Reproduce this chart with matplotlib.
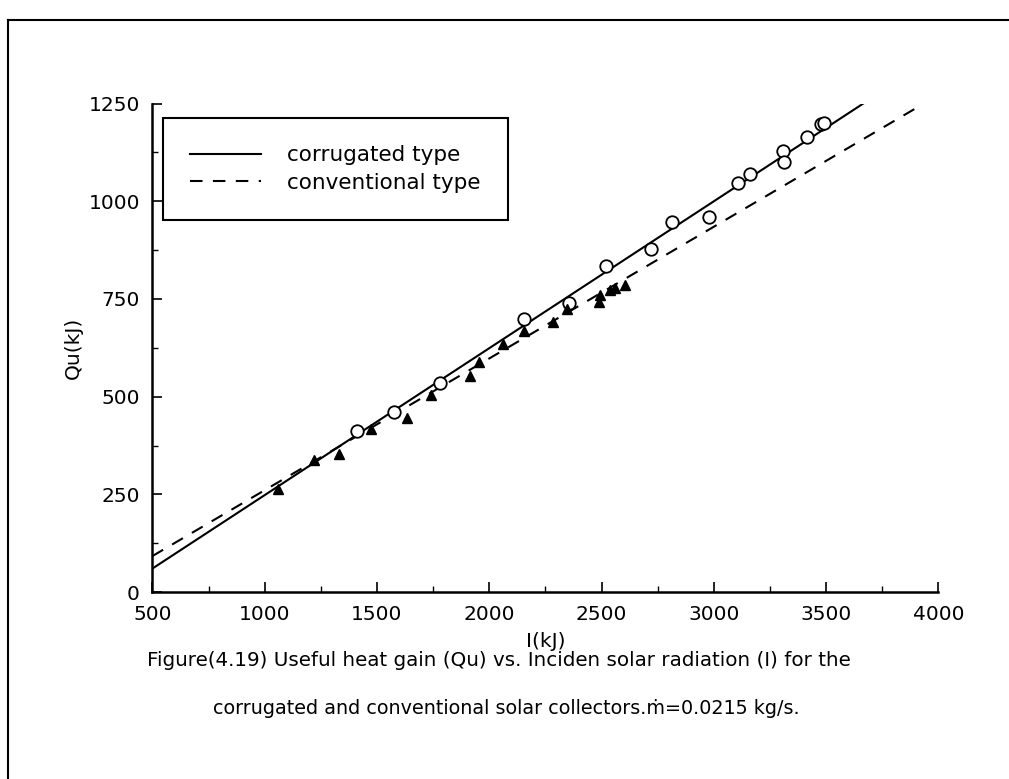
import numpy as np
import matplotlib
matplotlib.use('Agg')
import matplotlib.pyplot as plt
from matplotlib.lines import Line2D
from matplotlib.ticker import MultipleLocator

# measured points, corrugated collector (open circles)
corr_I = [1411, 1574, 1779, 2153, 2357, 2521, 2720, 2815, 2977, 3106, 3159, 3306, 3311, 3415, 3477, 3492]
corr_Q = [412, 460, 536, 700, 740, 834, 878, 946, 959, 1046, 1070, 1129, 1101, 1165, 1199, 1201]

# measured points, conventional collector (filled triangles)
conv_I = [1061, 1220, 1331, 1474, 1634, 1742, 1913, 1955, 2060, 2156, 2285, 2345, 2488, 2492, 2536, 2561, 2606]
conv_Q = [264, 338, 354, 416, 446, 504, 553, 589, 636, 668, 690, 724, 741, 760, 773, 778, 786]

# fitted lines (end points)
corr_fit_I = [500, 3665]
corr_fit_Q = [60, 1250]
conv_fit_I = [500, 3920]
conv_fit_Q = [92, 1245]

x_ticks = [500, 1000, 1500, 2000, 2500, 3000, 3500, 4000]
y_ticks = [0, 250, 500, 750, 1000, 1250]

caption1 = "Figure(4.19) Useful heat gain (Qu) vs. Inciden solar radiation (I) for the"
caption2 = "corrugated and conventional solar collectors.ṁ=0.0215 kg/s."

plt.rcParams['font.family'] = ['DejaVu Sans']

fig = plt.figure(figsize=(10.09, 7.79), dpi=100)
ax = fig.add_axes([0.151, 0.240, 0.779, 0.627])

ax.plot(corr_fit_I, corr_fit_Q, color='black', lw=1.5, label='corrugated type')
ax.plot(conv_fit_I, conv_fit_Q, color='black', lw=1.5, ls=(0, (6, 5)), label='conventional type')

ax.plot(corr_I, corr_Q, ls='none', marker='o', ms=9, mfc='white', mec='black', mew=1.3)
ax.plot(conv_I, conv_Q, ls='none', marker='^', ms=7.5, color='black')

ax.set_xlim(500, 4000)
ax.set_ylim(0, 1250)
ax.set_xticks(x_ticks)
ax.set_yticks(y_ticks)
ax.xaxis.set_minor_locator(MultipleLocator(250))
ax.yaxis.set_minor_locator(MultipleLocator(125))
ax.tick_params(which='major', direction='in', length=7, width=1.2, labelsize=14.5, pad=9)
ax.tick_params(which='minor', direction='in', length=4, width=1)

for s in ['top', 'right']:
    ax.spines[s].set_visible(False)
for s in ['left', 'bottom']:
    ax.spines[s].set_linewidth(1.8)

ax.set_xlabel('I(kJ)', fontsize=14.5, labelpad=6)
ax.set_ylabel('Qu(kJ)', fontsize=14.5, labelpad=4)

leg = ax.legend(loc='upper left', bbox_to_anchor=(0.014, 0.97), fontsize=15.5,
                handlelength=3.3, handletextpad=1.2, borderpad=1.25, labelspacing=0.35,
                fancybox=False, edgecolor='black', framealpha=1, borderaxespad=0)
leg.get_frame().set_linewidth(1.5)

fig.text(0.494, 1 - 661 / 779, caption1, ha='center', va='center', fontsize=14.3)
fig.text(0.502, 1 - 709 / 779, caption2, ha='center', va='center', fontsize=13.8)

# scanned page frame
fig.add_artist(Line2D([0.008, 1.0], [0.974, 0.974], transform=fig.transFigure, color='black', lw=1.5))
fig.add_artist(Line2D([0.008, 0.008], [0.0, 0.974], transform=fig.transFigure, color='black', lw=1.5))

fig.savefig('out.png', dpi=100)
